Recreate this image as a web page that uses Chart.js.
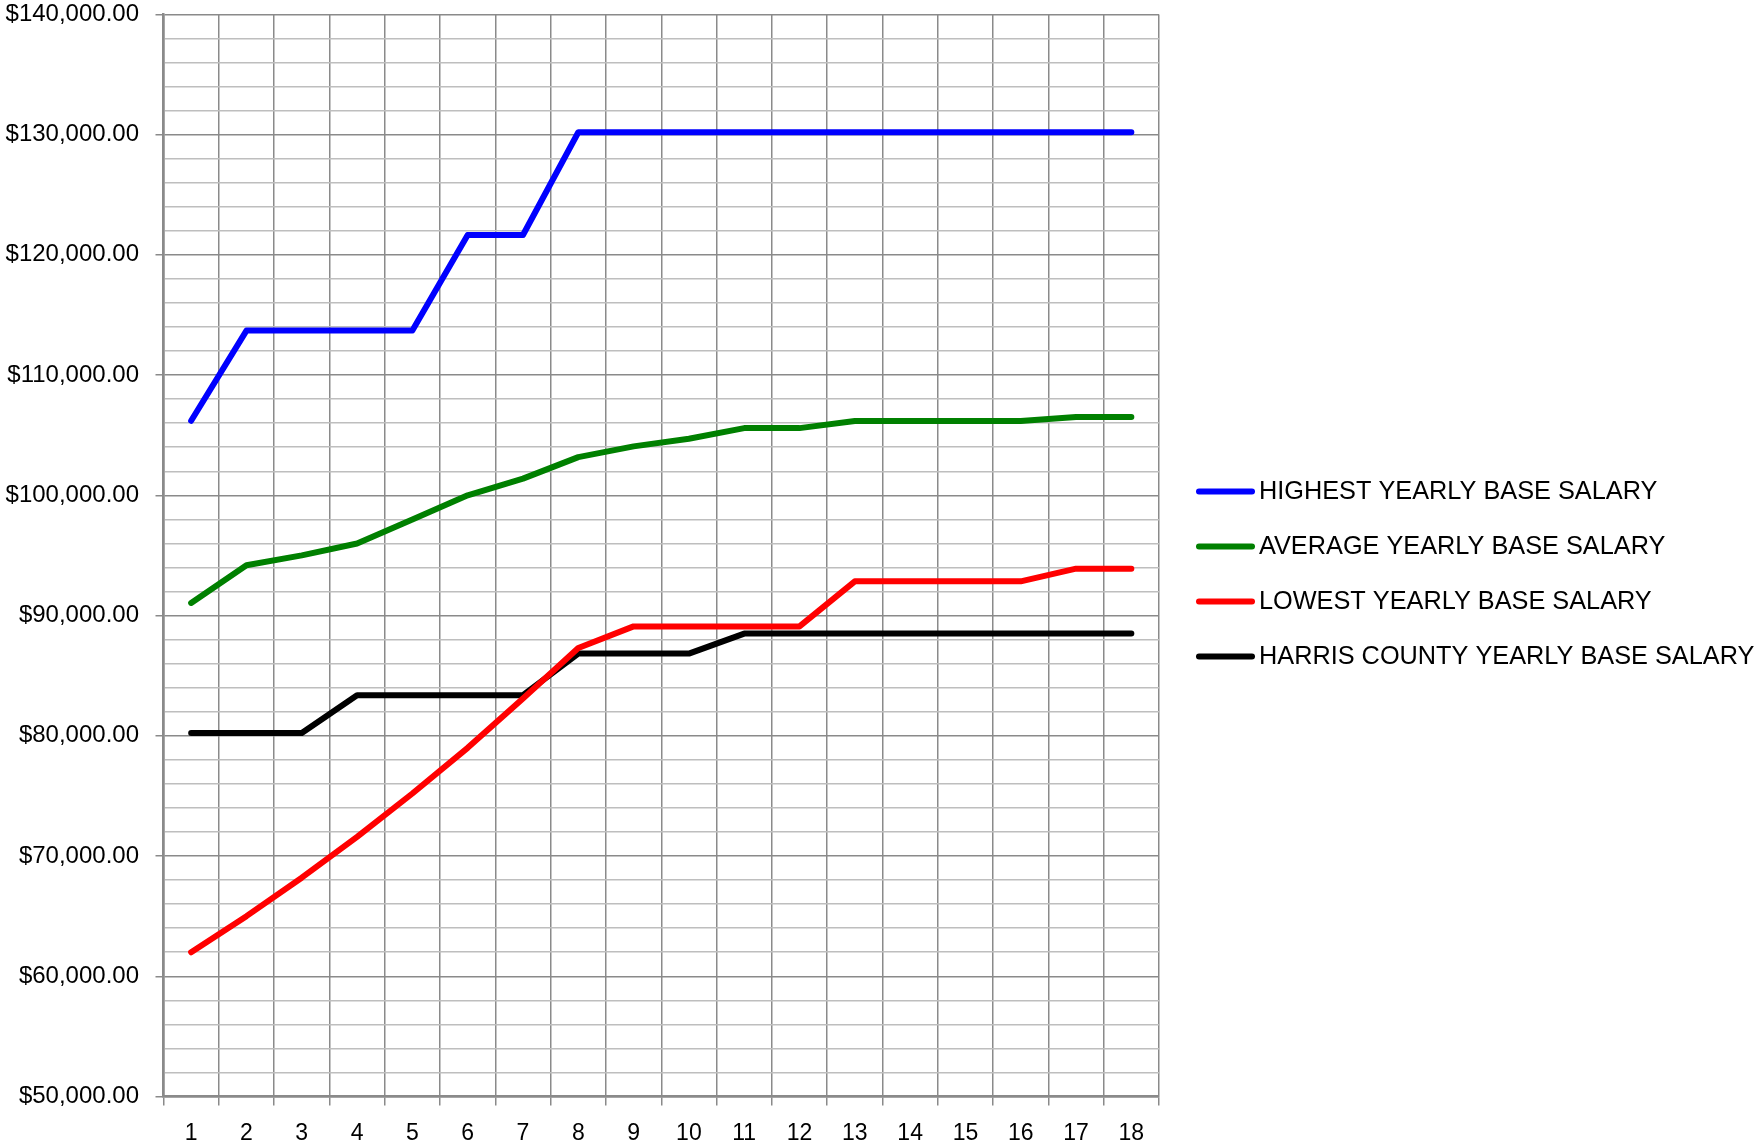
<!DOCTYPE html>
<html>
<head>
<meta charset="utf-8">
<title>Yearly Base Salary</title>
<script src="https://cdn.jsdelivr.net/npm/chart.js@4/dist/chart.umd.min.js"></script>
<style>
  html, body { margin: 0; padding: 0; background: #ffffff; }
  #wrap { width: 1756px; height: 1144px; }
</style>
</head>
<body>
<div id="wrap"><canvas id="salaryChart" width="1756" height="1144"></canvas></div>
<script>
// step numbers along the x axis
const steps = ['1', '2', '3', '4', '5', '6', '7', '8', '9', '10', '11', '12', '13', '14', '15', '16', '17', '18'];

const highestSalary = [106200, 113700, 113700, 113700, 113700, 121650, 121650, 130200, 130200,
  130200, 130200, 130200, 130200, 130200, 130200, 130200, 130200, 130200];
const averageSalary = [91050, 94180, 95010, 95990, 98000, 100000, 101390, 103180, 104070,
  104710, 105590, 105590, 106180, 106180, 106180, 106180, 106510, 106510];
const lowestSalary = [62000, 65000, 68200, 71600, 75200, 79000, 83100, 87300, 89100,
  89100, 89100, 89100, 92850, 92850, 92850, 92850, 93900, 93900];
const harrisSalary = [80230, 80230, 80230, 83380, 83380, 83380, 83380, 86840, 86840,
  86840, 88500, 88500, 88500, 88500, 88500, 88500, 88500, 88500];

const seriesNames = ['HIGHEST YEARLY BASE SALARY', 'AVERAGE YEARLY BASE SALARY',
  'LOWEST YEARLY BASE SALARY', 'HARRIS COUNTY YEARLY BASE SALARY'];
const seriesColors = ['#0000ff', '#008000', '#ff0000', '#000000'];

const yMin = 50000;
const yMax = 140000;
const yMajor = 10000;
const yMinor = 2000;

const FONT = "'Liberation Sans', Arial, sans-serif";
const GRID_DARK = '#8a8a8a';
const GRID_LIGHT = '#bebebe';

// "$140,000.00"
const money = (v) => '$' + String(v).replace(/\B(?=(\d{3})+(?!\d))/g, ',') + '.00';

const allSeries = [highestSalary, averageSalary, lowestSalary, harrisSalary];

// the built-in legend can't be wider than a quarter of the canvas,
// so the legend on the right is drawn by this small plugin instead
const sideLegend = {
  id: 'sideLegend',
  afterDraw(chart, args, opts) {
    const c = chart.ctx;
    const sets = chart.data.datasets;
    const x = chart.chartArea.right + opts.gap;
    const top = chart.height / 2 + opts.shift - (sets.length - 1) * opts.rowHeight / 2;
    c.save();
    c.font = opts.fontSize + 'px ' + FONT;
    c.textBaseline = 'middle';
    c.textAlign = 'left';
    c.lineCap = 'round';
    sets.forEach((ds, i) => {
      const y = top + i * opts.rowHeight;
      c.strokeStyle = ds.borderColor;
      c.lineWidth = opts.lineWidth;
      c.beginPath();
      c.moveTo(x, y);
      c.lineTo(x + opts.lineLength, y);
      c.stroke();
      c.fillStyle = '#000000';
      c.fillText(ds.label, x + opts.lineLength + opts.textGap, y + 1);
    });
    c.restore();
  },
};

const ctx = document.getElementById('salaryChart').getContext('2d');

new Chart(ctx, {
  type: 'line',
  data: {
    labels: steps,
    datasets: allSeries.map((values, i) => ({
      label: seriesNames[i],
      data: values,
      borderColor: seriesColors[i],
      backgroundColor: seriesColors[i],
      borderWidth: 6,
      borderCapStyle: 'round',
      borderJoinStyle: 'round',
      pointRadius: 0,
      pointHoverRadius: 0,
      tension: 0,
      fill: false,
    })),
  },
  plugins: [sideLegend],
  options: {
    responsive: false,
    animation: false,
    devicePixelRatio: 1,
    layout: { padding: { left: 0, right: 597, top: 0, bottom: 0 } },
    plugins: {
      tooltip: { enabled: false },
      legend: { display: false },
      sideLegend: {
        gap: 40,
        lineLength: 53,
        lineWidth: 6,
        textGap: 7,
        rowHeight: 55,
        shift: 2,
        fontSize: 25.3,
      },
    },
    scales: {
      x: {
        type: 'category',
        offset: true,
        grid: {
          offset: true,
          color: GRID_DARK,
          lineWidth: 1.5,
          tickLength: 9,
        },
        border: { color: GRID_DARK, width: 2.5 },
        ticks: {
          color: '#000000',
          font: { family: FONT, size: 23 },
          padding: 14,
          maxRotation: 0,
          autoSkip: false,
        },
        // keep the label band as tight as in the original
        afterFit: (s) => { s.height = 47.5; },
      },
      y: {
        min: yMin,
        max: yMax,
        grid: {
          color: (c) => (c.tick && c.tick.value % yMajor === 0 ? GRID_DARK : GRID_LIGHT),
          lineWidth: 1.5,
          tickLength: 8,
          tickColor: (c) => (c.tick && c.tick.value % yMajor === 0 ? GRID_DARK : 'rgba(0,0,0,0)'),
        },
        border: { color: GRID_DARK, width: 2.5 },
        ticks: {
          stepSize: yMinor,
          autoSkip: false,
          color: '#000000',
          font: { family: FONT, size: 24 },
          padding: 16.5,
          callback: (v) => (v % yMajor === 0 ? money(v) : ''),
        },
        // only half a label of room above the top / below the bottom line
        afterFit: (s) => {
          s.width = 163.5;
          s.paddingTop = 14.4;
          s.paddingBottom = 14.4;
        },
      },
    },
  },
});
</script>
</body>
</html>
